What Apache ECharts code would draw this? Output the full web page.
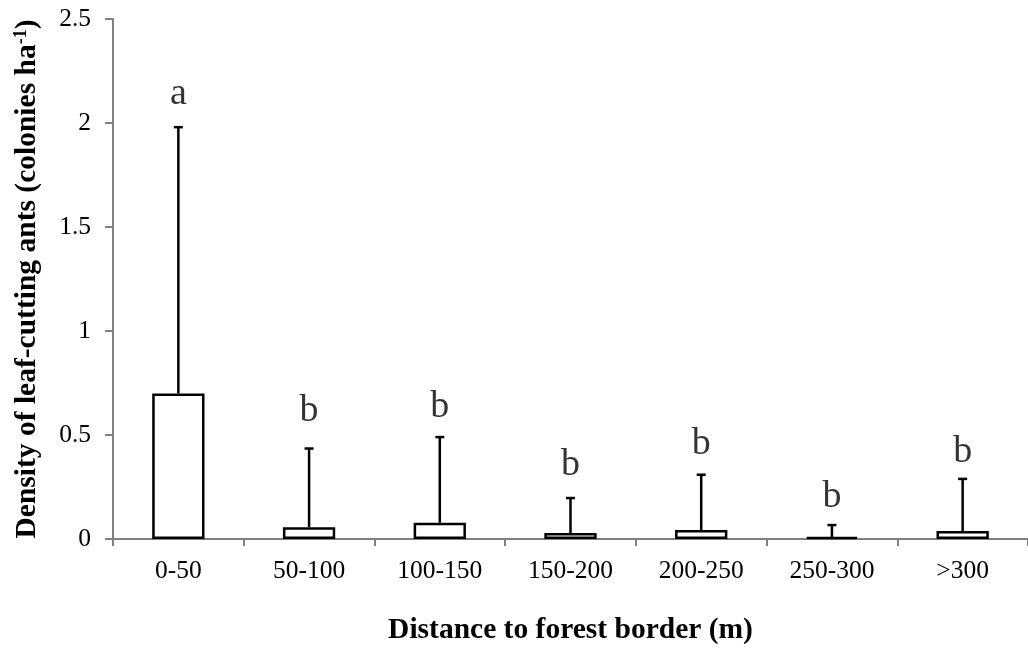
<!DOCTYPE html>
<html>
<head>
<meta charset="utf-8">
<script src="https://cdn.jsdelivr.net/npm/echarts@6/dist/echarts.min.js"></script>
<style>html,body{margin:0;padding:0;background:#fff;}#c{width:1028px;height:650px;}</style>
</head>
<body>
<div id="c"></div>
<script>
var categories = ['0-50', '50-100', '100-150', '150-200', '200-250', '250-300', '>300'];
var means = [0.70, 0.057, 0.078, 0.029, 0.043, 0.009, 0.038];
var errorTops = [1.98, 0.435, 0.49, 0.197, 0.309, 0.067, 0.289];
var letters = ['a', 'b', 'b', 'b', 'b', 'b', 'b'];
var letterY = [2.137, 0.615, 0.635, 0.358, 0.458, 0.202, 0.42];
var yTicks = [0, 0.5, 1, 1.5, 2, 2.5];

var FONT = '"Liberation Serif", "Times New Roman", serif';
var chart = echarts.init(document.getElementById('c'));
chart.setOption({
  animation: false,
  backgroundColor: '#fff',
  grid: { left: 113, top: 19, width: 921, bottom: 107, containLabel: false },
  xAxis: {
    type: 'category',
    data: categories,
    name: 'Distance to forest border (m)',
    nameLocation: 'middle',
    nameGap: 76,
    nameTextStyle: { fontFamily: FONT, fontSize: 29.5, fontWeight: 'bold', color: '#000' },
    axisLine: { lineStyle: { color: '#808080', width: 2 } },
    axisTick: { show: true, length: 7, lineStyle: { color: '#808080', width: 2 } },
    axisLabel: { fontFamily: FONT, fontSize: 25.5, color: '#000', margin: 19 }
  },
  yAxis: {
    type: 'value',
    min: 0, max: 2.5, interval: 0.5,
    name: 'Density of leaf-cutting ants (colonies ha{sup|-1})',
    nameLocation: 'middle',
    nameGap: 71,
    nameRotate: 90,
    nameTextStyle: {
      fontFamily: FONT, fontSize: 29.5, fontWeight: 'bold', color: '#000',
      rich: { sup: { fontFamily: FONT, fontSize: 18, fontWeight: 'bold', color: '#000', verticalAlign: 'top', padding: [0, 0, 12, 0] } }
    },
    axisLine: { show: true, lineStyle: { color: '#808080', width: 2 } },
    axisTick: { show: true, length: 8, lineStyle: { color: '#808080', width: 2 } },
    splitLine: { show: false },
    axisLabel: {
      fontFamily: FONT, fontSize: 25.5, color: '#000', margin: 22,
      formatter: function (v) { return yTicks.indexOf(v) >= 0 ? String(v) : ''; }
    }
  },
  series: [
    {
      type: 'bar',
      data: means,
      barWidth: '40%',
      itemStyle: { color: '#fff', borderColor: '#000', borderWidth: 2.5 },
      z: 3
    },
    {
      type: 'custom',
      z: 4,
      data: categories.map(function (c, i) { return [i, means[i], errorTops[i]]; }),
      renderItem: function (params, api) {
        var base = api.coord([api.value(0), api.value(1)]);
        var top = api.coord([api.value(0), api.value(2)]);
        var half = 4.5;
        return {
          type: 'group',
          children: [
            { type: 'line', shape: { x1: base[0], y1: base[1], x2: top[0], y2: top[1] }, style: { stroke: '#000', lineWidth: 2.5 } },
            { type: 'line', shape: { x1: top[0] - half, y1: top[1], x2: top[0] + half, y2: top[1] }, style: { stroke: '#000', lineWidth: 2.5 } }
          ]
        };
      }
    },
    {
      type: 'scatter',
      symbolSize: 0,
      z: 5,
      data: categories.map(function (c, i) { return [i, letterY[i]]; }),
      label: {
        show: true,
        position: 'inside',
        formatter: function (p) { return letters[p.dataIndex]; },
        fontFamily: FONT, fontSize: 38, color: '#000'
      }
    }
  ]
});
</script>
</body>
</html>
